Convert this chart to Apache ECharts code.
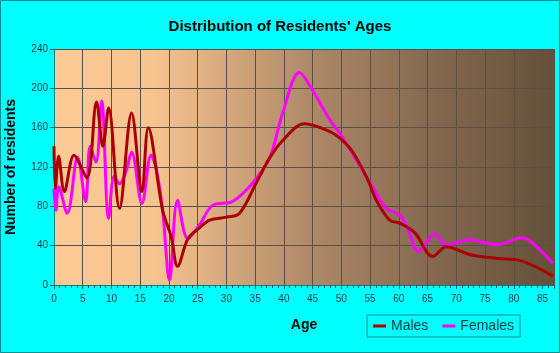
<!DOCTYPE html>
<html>
<head>
<meta charset="utf-8">
<script src="https://cdn.jsdelivr.net/npm/echarts@6/dist/echarts.min.js"></script>
<style>
  html, body { margin: 0; padding: 0; background: #00ffff; }
  #chart { width: 560px; height: 353px; }
</style>
</head>
<body>
<div id="chart"></div>
<script>
// ages and counts
const maleAges = [0, 0.25, 0.8, 1.8, 3.5, 5.7, 7.4, 8.5, 9.5, 11.4, 13.5, 15.3, 16.4, 18.9, 20.4, 21.5, 23.3, 25.3, 27.1, 30, 32.3, 35.2, 37.5, 39.8, 43.6, 48, 50, 52, 54.6, 56.1, 58.4, 60.2, 62.8, 65.9, 68.3, 72.3, 77, 81, 86.8];
const maleCounts = [141, 98, 131, 95, 132, 109, 186, 141, 180, 78, 175, 95, 160, 76, 49, 19, 47, 58, 66, 69, 73, 104, 129, 147, 164, 156, 148, 135, 107, 86, 66, 63, 53, 29, 39, 31, 27, 25, 9];

const femaleAges = [0, 0.35, 0.8, 2.3, 4.1, 5.5, 6.3, 7.3, 8.3, 9.5, 10.5, 11.4, 12.5, 13.5, 15.3, 16.9, 17.8, 18.9, 20.1, 21.5, 23.3, 25.3, 27.6, 31.1, 34.6, 37.5, 39.8, 42.7, 45, 48, 50, 55, 57.8, 60.2, 61.6, 63.4, 64.8, 66.3, 68.3, 72.3, 77, 81.6, 84.5, 86.8];
const femaleCounts = [98, 76, 100, 73, 130, 85, 141, 125, 187, 68, 111, 103, 115, 135, 83, 132, 118, 76, 5, 86, 47, 61, 81, 85, 104, 129, 175, 216, 198, 168, 152, 104, 78, 71, 56, 34, 43, 52, 41, 46, 41, 48, 36, 22];

const xTicks = [0, 5, 10, 15, 20, 25, 30, 35, 40, 45, 50, 55, 60, 65, 70, 75, 80, 85];
const yTicks = [0, 40, 80, 120, 160, 200, 240];

const pair = (xs, ys) => xs.map((x, i) => [x, ys[i]]);

const chart = echarts.init(document.getElementById('chart'));
chart.setOption({
  backgroundColor: '#00ffff',
  animation: false,
  textStyle: { fontFamily: 'Liberation Sans, Arial, sans-serif' },
  title: {
    text: "Distribution of Residents' Ages",
    left: 'center',
    top: 14,
    textStyle: { fontSize: 15, fontWeight: 'bold', color: '#000' }
  },
  graphic: [{
    type: 'rect',
    shape: { x: 0.5, y: 0.5, width: 559, height: 352 },
    style: { fill: 'none', stroke: '#009090', lineWidth: 1 },
    silent: true
  }],
  legend: {
    left: 367,
    top: 315,
    padding: [4, 6, 4, 6],
    itemGap: 14,
    itemWidth: 13,
    itemHeight: 3,
    icon: 'rect',
    borderColor: '#008b8b',
    borderWidth: 1,
    textStyle: { fontSize: 14, color: '#004040' },
    data: ['Males', 'Females']
  },
  grid: {
    left: 54, right: 6, top: 49, bottom: 68,
    outerBoundsMode: 'none',
    containLabel: false,
    show: true,
    borderWidth: 0,
    backgroundColor: new echarts.graphic.LinearGradient(0, 0, 1, 0, [
      { offset: 0, color: '#fdca96' },
      { offset: 0.2, color: '#f7c48f' },
      { offset: 0.5, color: '#b18b69' },
      { offset: 0.75, color: '#856951' },
      { offset: 1, color: '#655039' }
    ])
  },
  xAxis: {
    type: 'value',
    min: 0,
    max: 87,
    interval: 5,
    name: 'Age',
    nameLocation: 'middle',
    nameGap: 33,
    nameTextStyle: { fontSize: 14, fontWeight: 'bold', color: '#000' },
    axisLine: { lineStyle: { color: '#008080' } },
    axisTick: { length: 4, lineStyle: { color: '#006060' } },
    minorTick: { show: true, splitNumber: 5, length: 3, lineStyle: { color: '#006060' } },
    axisLabel: {
      fontSize: 10, color: '#003a40', margin: 9,
      formatter: v => xTicks.includes(v) ? String(v) : ''
    },
    splitLine: { show: true, lineStyle: { color: '#5a5048', width: 1 } }
  },
  yAxis: {
    type: 'value',
    min: 0,
    max: 240,
    interval: 40,
    name: 'Number of residents',
    nameLocation: 'middle',
    nameGap: 36,
    nameTextStyle: { fontSize: 14, fontWeight: 'bold', color: '#000' },
    axisLine: { show: true, lineStyle: { color: '#008080' } },
    axisTick: { show: true, length: 4, lineStyle: { color: '#006060' } },
    axisLabel: {
      fontSize: 10, color: '#003a40', margin: 6,
      formatter: v => yTicks.includes(v) ? String(v) : ''
    },
    splitLine: { show: true, lineStyle: { color: '#5a5048', width: 1 } }
  },
  series: [
    {
      name: 'Males',
      type: 'line',
      data: pair(maleAges, maleCounts),
      smooth: 0.35,
      showSymbol: false,
      itemStyle: { color: '#aa0000' },
      lineStyle: { color: '#aa0000', width: 3 },
      z: 3
    },
    {
      name: 'Females',
      type: 'line',
      data: pair(femaleAges, femaleCounts),
      smooth: 0.35,
      showSymbol: false,
      itemStyle: { color: '#ff00ff' },
      lineStyle: { color: '#ff00ff', width: 3 },
      z: 2
    }
  ]
});
</script>
</body>
</html>
